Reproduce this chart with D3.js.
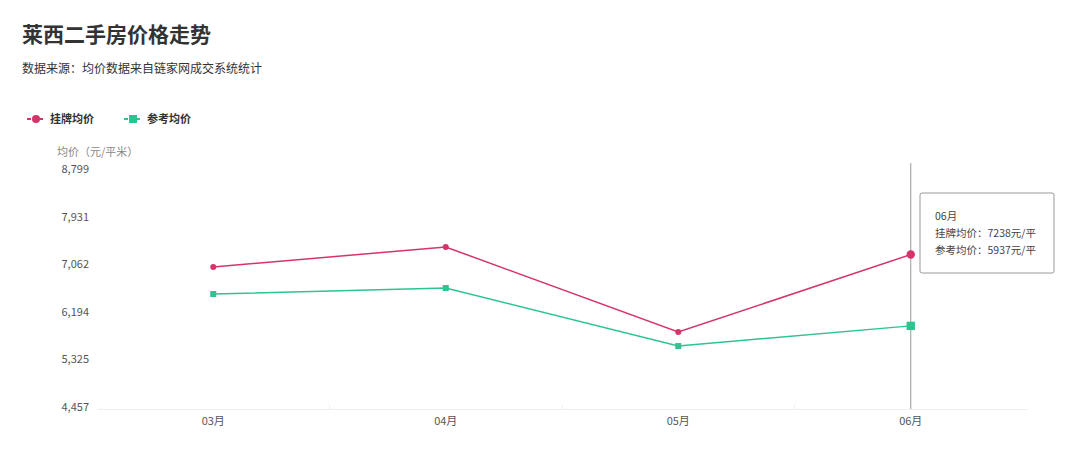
<!DOCTYPE html>
<html><head><meta charset="utf-8">
<script src="https://cdn.jsdelivr.net/npm/d3@7"></script>
<style>body{margin:0;background:#fff;font-family:"Noto Sans CJK SC","Noto Sans",sans-serif}</style>
</head><body><svg id="c" width="1080" height="450"></svg>
<script>
const months = ["03月","04月","05月","06月"];
const listing = [7011, 7376, 5825, 7238];
const reference = [6518, 6628, 5569, 5937];
const yTicks = [4457, 5325, 6194, 7062, 7931, 8799];
const seriesNames = ["挂牌均价","参考均价"];
const colors = ["#d6336c","#2ec48f"];

const svg = d3.select("#c");
const f = "'Noto Sans CJK SC',sans-serif";
svg.append("text").attr("x",22).attr("y",42).attr("font-size",21).attr("font-weight","bold").attr("fill","#333").attr("font-family",f).text("莱西二手房价格走势");
svg.append("text").attr("x",22).attr("y",73).attr("font-size",12).attr("fill","#333").attr("font-family",f).text("数据来源：均价数据来自链家网成交系统统计");

const x = d3.scaleBand().domain(months).range([97,1027]);
const y = d3.scaleLinear().domain([4457,8799]).range([407,169]);

// legend
seriesNames.forEach((n,i)=>{
  const g = svg.append("g").attr("transform",`translate(${27+i*97},119)`);
  g.append("line").attr("x1",0).attr("x2",18).attr("stroke",colors[i]).attr("stroke-width",2).attr("stroke-dasharray","4,2");
  if(i===0) g.append("circle").attr("cx",9).attr("r",4).attr("fill",colors[i]);
  else g.append("rect").attr("x",5).attr("y",-4).attr("width",8).attr("height",8).attr("fill",colors[i]);
  g.append("text").attr("x",23).attr("y",4).attr("font-size",11).attr("font-weight","bold").attr("fill","#333").attr("font-family",f).text(n);
});

svg.append("text").attr("x",57).attr("y",156).attr("font-size",11).attr("fill","#888").attr("font-family",f).text("均价（元/平米）");

// y labels
svg.append("g").selectAll("text").data(yTicks).join("text")
  .attr("x",89).attr("y",d=>y(d)+4).attr("text-anchor","end").attr("font-size",11).attr("fill","#555")
  .attr("font-family",f).text(d=>d3.format(",")(d));

// x axis
const xa = svg.append("g").attr("transform","translate(0,409)").call(d3.axisBottom(x).tickSize(0).tickPadding(8));
xa.select(".domain").attr("stroke","#eee");
xa.selectAll("text").attr("font-size",11).attr("fill","#555").attr("font-family",f);
svg.append("g").selectAll("line").data(months.slice(1)).join("line")
  .attr("x1",d=>x(d)).attr("x2",d=>x(d)).attr("y1",405).attr("y2",409).attr("stroke","#eee");

// crosshair
svg.append("line").attr("x1",x("06月")+x.bandwidth()/2).attr("x2",x("06月")+x.bandwidth()/2)
  .attr("y1",163).attr("y2",409).attr("stroke","#999").attr("stroke-width",1);

const cx = d=>x(d)+x.bandwidth()/2;
[listing,reference].forEach((vals,i)=>{
  const line = d3.line().x((d,j)=>cx(months[j])).y(d=>y(d));
  svg.append("path").attr("d",line(vals)).attr("fill","none").attr("stroke",colors[i]).attr("stroke-width",1.5);
  vals.forEach((v,j)=>{
    const big = j===3 ? 1.4 : 1;
    if(i===0) svg.append("circle").attr("cx",cx(months[j])).attr("cy",y(v)).attr("r",3*big).attr("fill",colors[i]);
    else svg.append("rect").attr("x",cx(months[j])-3*big).attr("y",y(v)-3*big).attr("width",6*big).attr("height",6*big).attr("fill",colors[i]);
  });
});

// tooltip
const t = svg.append("g").attr("transform","translate(920,193)");
t.append("rect").attr("width",134).attr("height",80).attr("rx",2).attr("fill","#fff").attr("stroke","#999");
const lines = ["06月", `${seriesNames[0]}：${listing[3]}元/平`, `${seriesNames[1]}：${reference[3]}元/平`];
lines.forEach((s,i)=>t.append("text").attr("x",15).attr("y",27+i*17).attr("font-size",10.5).attr("fill","#444").attr("font-family",f).text(s));
</script></body></html>
